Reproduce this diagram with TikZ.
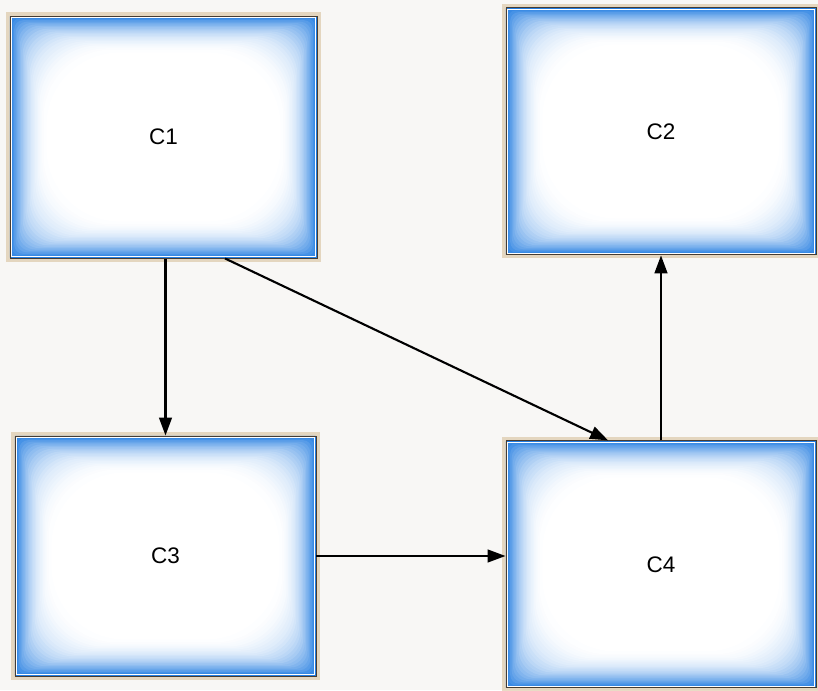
\documentclass[tikz,border=0pt]{standalone}
\usepackage{fontspec}
\setmainfont{Liberation Sans}
\usetikzlibrary{arrows.meta, positioning, calc}
\definecolor{glowblue}{RGB}{35,125,225}
\definecolor{rim}{RGB}{70,60,50}
\definecolor{halo}{RGB}{200,165,110}
\definecolor{paper}{RGB}{248,247,245}
\tikzset{glow/.style={path picture={
    \foreach \i [evaluate=\i as \p using {int(100*(1-\i/30)^2.5)}, evaluate=\i as \r using {0.01+\i*0.07}] in {0,...,30}
      \fill[glowblue!\p!white,rounded corners=\r cm] ([shift={(\i*0.035,-\i*0.035)}]path picture bounding box.north west) rectangle ([shift={(-\i*0.035,\i*0.035)}]path picture bounding box.south east);
    \draw[white,line width=0.6pt] ([shift={(0.04,-0.04)}]path picture bounding box.north west) rectangle ([shift={(-0.04,0.04)}]path picture bounding box.south east);}},
  box/.style={rectangle,draw=rim,line width=0.7pt,glow,inner sep=0pt,font=\fontsize{16}{18}\selectfont,preaction={draw=halo,line width=5pt,opacity=0.4}},
  line/.style={-{Triangle[length=4.5mm,width=3.2mm]},line width=1.5pt}}

\begin{document}
\begin{tikzpicture}[node distance=4.425cm and 4.7cm]
\fill[paper,use as bounding box] (-4.0875,3.425) rectangle (16.3625,-13.825);
\node[box,minimum width=7.675cm,minimum height=6.05cm] (C1) {C1};
\node[box,right=of C1,yshift=0.14cm,minimum width=7.75cm,minimum height=6.175cm] (C2) {C2};
\node[box,below=of C1,xshift=0.05cm,minimum width=7.525cm,minimum height=6cm] (C3) {C3};
\node[box,below=4.625cm of C2,minimum width=7.75cm,minimum height=6.175cm] (C4) {C4};
\draw[line] (C3.north |- C1.south) -- (C3.north);
\draw[line] ($(C1.south west)!0.7!(C1.south east)$) -- ($(C4.north west)!0.33!(C4.north east)$);
\draw[line] (C3.east) -- (C3.east -| C4.west);
\draw[line] (C4.north) -- (C4.north |- C2.south);
\end{tikzpicture}
\end{document}
